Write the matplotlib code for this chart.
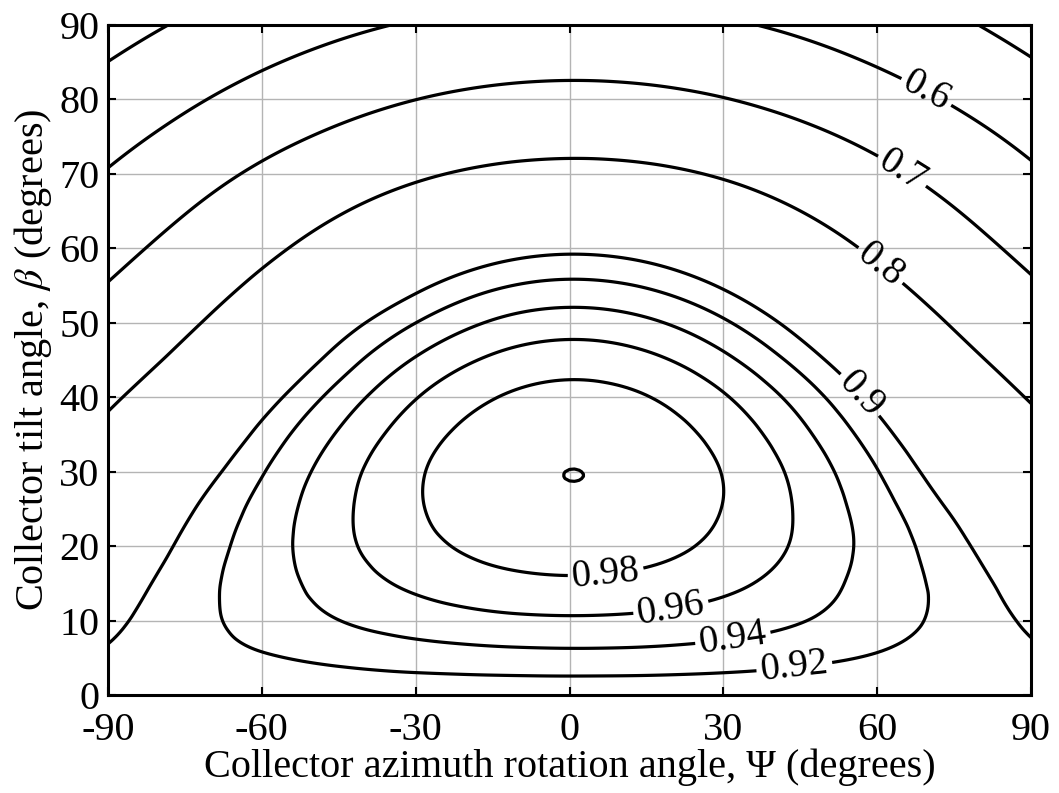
import matplotlib
matplotlib.use("Agg")
import matplotlib.pyplot as plt
import matplotlib.tri as mtri
import numpy as np

# collector azimuth (Psi) and tilt (beta) nodes, degrees
PSI = [-90, -75, -60, -45, -30, -15, 0, 15, 30, 45, 60, 75, 90]
BETA = [0, 5, 10, 15, 20, 25, 30, 35, 40, 45, 50, 55, 60, 65, 70, 75, 80, 85, 90]

# relative irradiation, one row per tilt angle
RATIO = [
    [0.9050, 0.9050, 0.9050, 0.9050, 0.9050, 0.9050, 0.9050, 0.9050, 0.9050, 0.9050, 0.9050, 0.9050, 0.9050],
    [0.9024, 0.9107, 0.9181, 0.9243, 0.9293, 0.9323, 0.9335, 0.9327, 0.9297, 0.9247, 0.9182, 0.9109, 0.9030],
    [0.8948, 0.9125, 0.9272, 0.9398, 0.9492, 0.9551, 0.9572, 0.9555, 0.9500, 0.9410, 0.9286, 0.9140, 0.8964],
    [0.8843, 0.9105, 0.9301, 0.9492, 0.9639, 0.9732, 0.9766, 0.9737, 0.9649, 0.9506, 0.9319, 0.9125, 0.8864],
    [0.8710, 0.9045, 0.9300, 0.9546, 0.9736, 0.9857, 0.9900, 0.9864, 0.9750, 0.9566, 0.9324, 0.9065, 0.8737],
    [0.8549, 0.8955, 0.9265, 0.9550, 0.9778, 0.9923, 0.9975, 0.9931, 0.9795, 0.9574, 0.9286, 0.8965, 0.8583],
    [0.8362, 0.8815, 0.9185, 0.9512, 0.9773, 0.9940, 1.0000, 0.9950, 0.9793, 0.9540, 0.9208, 0.8825, 0.8402],
    [0.8147, 0.8630, 0.9060, 0.9419, 0.9708, 0.9893, 0.9960, 0.9905, 0.9732, 0.9453, 0.9087, 0.8660, 0.8195],
    [0.7901, 0.8412, 0.8885, 0.9277, 0.9591, 0.9791, 0.9865, 0.9807, 0.9620, 0.9319, 0.8922, 0.8458, 0.7958],
    [0.7627, 0.8155, 0.8665, 0.9090, 0.9418, 0.9631, 0.9710, 0.9647, 0.9448, 0.9126, 0.8705, 0.8213, 0.7687],
    [0.7334, 0.7887, 0.8405, 0.8870, 0.9199, 0.9419, 0.9500, 0.9435, 0.9230, 0.8897, 0.8459, 0.7947, 0.7395],
    [0.7030, 0.7601, 0.8132, 0.8589, 0.8941, 0.9165, 0.9247, 0.9181, 0.8972, 0.8633, 0.8186, 0.7661, 0.7092],
    [0.6715, 0.7294, 0.7831, 0.8290, 0.8643, 0.8868, 0.8950, 0.8884, 0.8675, 0.8336, 0.7887, 0.7356, 0.6779],
    [0.6390, 0.6970, 0.7503, 0.7956, 0.8301, 0.8519, 0.8600, 0.8537, 0.8334, 0.8002, 0.7561, 0.7034, 0.6456],
    [0.6055, 0.6619, 0.7136, 0.7571, 0.7903, 0.8113, 0.8190, 0.8131, 0.7937, 0.7619, 0.7194, 0.6685, 0.6123],
    [0.5712, 0.6244, 0.6731, 0.7141, 0.7454, 0.7651, 0.7724, 0.7669, 0.7488, 0.7191, 0.6791, 0.6312, 0.5782],
    [0.5362, 0.5863, 0.6320, 0.6704, 0.6996, 0.7180, 0.7248, 0.7195, 0.7025, 0.6745, 0.6370, 0.5919, 0.5420],
    [0.5006, 0.5479, 0.5905, 0.6262, 0.6531, 0.6699, 0.6760, 0.6711, 0.6553, 0.6294, 0.5943, 0.5521, 0.5050],
    [0.4651, 0.5094, 0.5492, 0.5822, 0.6070, 0.6224, 0.6280, 0.6236, 0.6092, 0.5854, 0.5530, 0.5136, 0.4694],
]

LABELED = [0.6, 0.7, 0.8, 0.9, 0.92, 0.94, 0.96, 0.98]
UNLABELED = [0.5, 0.99995]
X_TICKS = [-90, -60, -30, 0, 30, 60, 90]
Y_TICKS = [0, 10, 20, 30, 40, 50, 60, 70, 80, 90]

plt.rcParams["font.family"] = ["Liberation Serif", "DejaVu Serif"]
plt.rcParams["mathtext.fontset"] = "stix"
plt.rcParams["axes.unicode_minus"] = False

# smooth the coarse table with a cubic interpolation on a refined mesh
z = np.asarray(RATIO, dtype=float)
n_b, n_p = z.shape
jj, ii = np.mgrid[0:n_b, 0:n_p]
cells = []
for j in range(n_b - 1):
    for i in range(n_p - 1):
        a = j * n_p + i
        cells += [[a, a + 1, a + n_p + 1], [a, a + n_p + 1, a + n_p]]
mesh = mtri.Triangulation(ii.ravel().astype(float), jj.ravel().astype(float), cells)
interp = mtri.CubicTriInterpolator(mesh, z.ravel(), kind="min_E")
fine, z_fine = mtri.UniformTriRefiner(mesh).refine_field(z.ravel(), triinterpolator=interp, subdiv=4)
fine = mtri.Triangulation(np.interp(fine.x, np.arange(n_p), PSI),
                          np.interp(fine.y, np.arange(n_b), BETA), fine.triangles)

fig = plt.figure(figsize=(10.59, 7.93), dpi=100)
ax = fig.add_axes([108 / 1059, 1 - 695 / 793, 923 / 1059, 670 / 793])

ax.tricontour(fine, z_fine, levels=UNLABELED, colors="k", linewidths=2.3)
cs = ax.tricontour(fine, z_fine, levels=LABELED, colors="k", linewidths=2.3)
ax.clabel(cs, fmt="%g", fontsize=28, inline=True, inline_spacing=4,
          manual=[(69.5, 80.9), (64.6, 70.1), (60.3, 57.4), (56, 39.9),
                  (44, 2.8), (32, 7), (20, 10.7), (7.2, 15.4)])

ax.set_xlim(-90, 90)
ax.set_ylim(0, 90)
ax.set_xticks(X_TICKS)
ax.set_yticks(Y_TICKS)
ax.grid(True, color="#b4b4b4", linewidth=1.0)
ax.set_axisbelow(True)
ax.tick_params(direction="in", top=True, right=True, length=6, width=1.5, labelsize=29)
ax.tick_params(axis="x", pad=12)
ax.tick_params(axis="y", pad=6)
for side in ax.spines.values():
    side.set_linewidth(2.2)

ax.set_xlabel("Collector azimuth rotation angle, Ψ (degrees)", fontsize=29, labelpad=0)
ax.set_ylabel(r"Collector tilt angle, $\beta$ (degrees)", fontsize=29, labelpad=4)

fig.savefig("out.png", dpi=100)
plt.close(fig)
